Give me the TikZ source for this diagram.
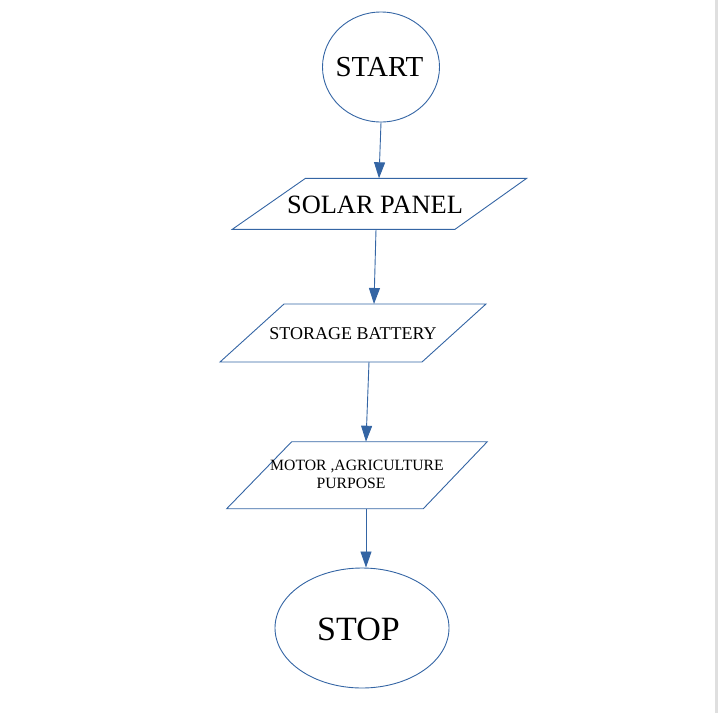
\documentclass[tikz,border=0pt]{standalone}
\usepackage{fontspec}
\setmainfont{Liberation Serif}
\usetikzlibrary{arrows.meta,shapes.geometric}
\definecolor{lo}{HTML}{3465A4}
\tikzset{
  shapeline/.style={draw=lo, line width=0.9pt},
  flow/.style={draw=lo, line width=0.9pt, -{Triangle[length=16pt,width=11pt]}},
  lbl/.style={inner sep=0pt, align=center, text=black},
}
\begin{document}
\begin{tikzpicture}[x=1pt,y=-1pt]
\useasboundingbox (0,0) rectangle (718,713);
\fill[gray!25] (715,0) rectangle (718,713);
% START
\node[shapeline, ellipse, minimum width=117pt, minimum height=110pt, inner sep=0pt] (start) at (381,67) {};
\node[lbl, font=\fontsize{29}{34}\selectfont] (startt) at (379.5,67) {START};
% SOLAR PANEL
\coordinate (sp1) at (305.5,178.3);
\coordinate (sp2) at (526.7,178.3);
\coordinate (sp3) at (455,229.3);
\coordinate (sp4) at (232.3,229.3);
\draw[shapeline] (sp1) -- (sp2) -- (sp3) -- (sp4) -- cycle;
\coordinate (sptop) at (379,178.3);
\coordinate (spbot) at (376,229.3);
\node[lbl, font=\fontsize{26.4}{31}\selectfont] (sp) at (375,205) {SOLAR PANEL};
% STORAGE BATTERY
\coordinate (sb1) at (284,304);
\coordinate (sb2) at (486,304);
\coordinate (sb3) at (422,362);
\coordinate (sb4) at (220,362);
\draw[shapeline] (sb1) -- (sb2) -- (sb3) -- (sb4) -- cycle;
\coordinate (sbtop) at (374,304);
\coordinate (sbbot) at (369,362);
\node[lbl, font=\fontsize{18}{21}\selectfont] (sb) at (353,333.5) {STORAGE BATTERY};
% MOTOR
\coordinate (m1) at (291.7,441.7);
\coordinate (m2) at (487.3,441.7);
\coordinate (m3) at (423.3,508.7);
\coordinate (m4) at (226.7,508.7);
\draw[shapeline] (m1) -- (m2) -- (m3) -- (m4) -- cycle;
\coordinate (mtop) at (366,441.7);
\coordinate (mbot) at (366,508.7);
\node[lbl, font=\fontsize{15.7}{18}\selectfont] (mt) at (357,474.5) {MOTOR ,AGRICULTURE\\PURPOSE\hspace*{12pt}};
% STOP
\node[shapeline, ellipse, minimum width=174pt, minimum height=120pt, inner sep=0pt] (stop) at (362,628) {};
\coordinate (stoptop) at (366,567.5);
\node[lbl, font=\fontsize{34}{40}\selectfont] (stopt) at (358.5,629) {STOP};
% connectors
\draw[flow] (start.south) -- (sptop);
\draw[flow] (spbot) -- (sbtop);
\draw[flow] (sbbot) -- (mtop);
\draw[flow] (mbot) -- (stoptop);
\end{tikzpicture}
\end{document}
